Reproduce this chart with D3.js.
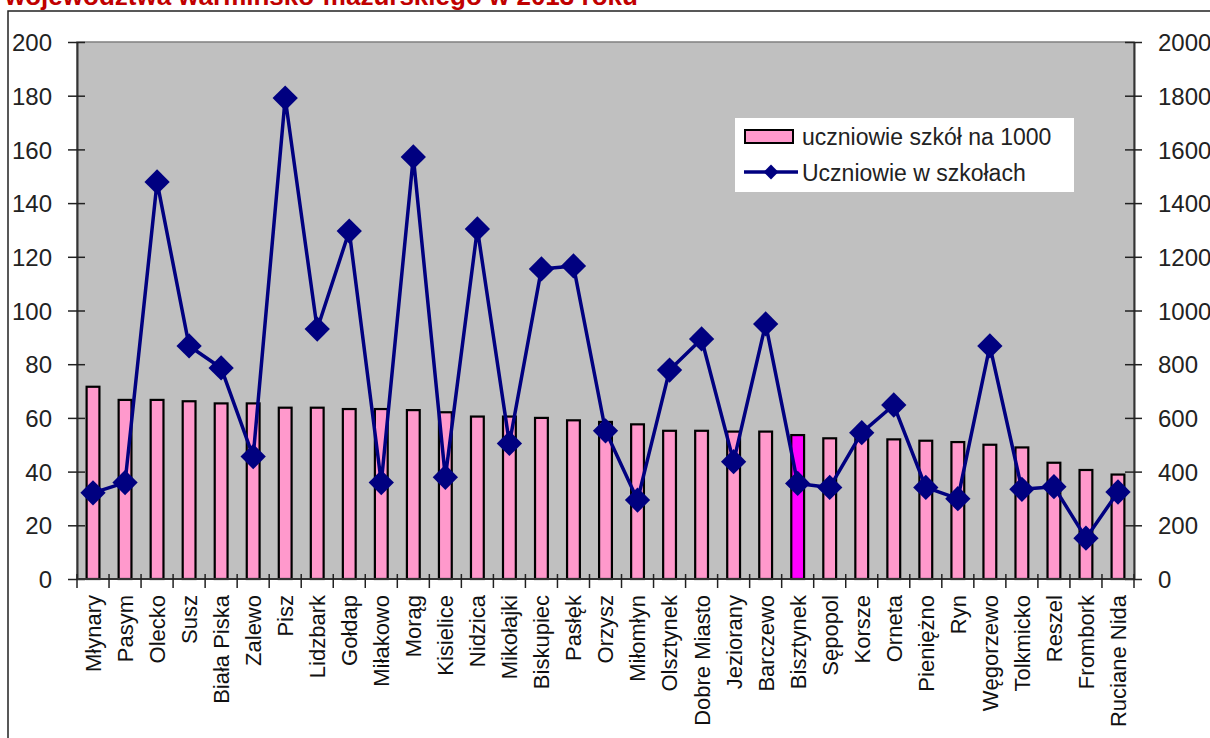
<!DOCTYPE html>
<html><head><meta charset="utf-8">
<script src="https://cdn.jsdelivr.net/npm/d3@7"></script>
<style>html,body{margin:0;padding:0;background:#fff;overflow:hidden}</style>
</head><body>
<svg id="c" width="1210" height="738"></svg>
<script>
const titleText = "województwa warmińsko-mazurskiego w 2013 roku";
const categories = ["Młynary","Pasym","Olecko","Susz","Biała Piska","Zalewo","Pisz","Lidzbark","Gołdap","Miłakowo","Morąg","Kisielice","Nidzica","Mikołajki","Biskupiec","Pasłęk","Orzysz","Miłomłyn","Olsztynek","Dobre Miasto","Jeziorany","Barczewo","Bisztynek","Sępopol","Korsze","Orneta","Pieniężno","Ryn","Węgorzewo","Tolkmicko","Reszel","Frombork","Ruciane Nida"];
const perThousand = [71.6,66.7,66.7,66.2,65.4,65.4,63.8,63.8,63.3,63.3,62.9,62.1,60.5,60.5,60.0,59.1,58.5,57.6,55.2,55.2,54.9,54.9,53.6,52.4,52.4,52.0,51.5,51.0,50.0,49.0,43.3,40.6,38.9];
const students = [321,359,1479,868,786,456,1791,931,1296,359,1572,379,1304,505,1155,1166,552,294,778,894,437,950,356,341,545,648,341,299,868,334,344,152,324];
const highlighted = ["Bisztynek"];
const leftTicks = [0,20,40,60,80,100,120,140,160,180,200];
const rightTicks = [0,200,400,600,800,1000,1200,1400,1600,1800,2000];
const seriesNames = ["uczniowie szkół na 1000","Uczniowie w szkołach"];

const svg = d3.select("#c");
const font = "'Liberation Sans', Arial, sans-serif";
const L = 77, R = 1134, T = 42, B = 579;

// title (cut off at top, as in the reference)
svg.append("text").attr("x",5).attr("y",5).text(titleText)
  .attr("font-family",font).attr("font-weight","bold").attr("font-size",26).attr("fill","#C00000");

// outer frame
svg.append("path").attr("d","M8,738 V11 H1210").attr("fill","none").attr("stroke","#222").attr("stroke-width",1.5);

const x = d3.scaleBand().domain(categories).range([L,R]);
const yL = d3.scaleLinear().domain([0,200]).range([B,T]);
const yR = d3.scaleLinear().domain([0,2000]).range([B,T]);

// plot area
svg.append("rect").attr("x",L).attr("y",T).attr("width",R-L).attr("height",B-T)
  .attr("fill","#C0C0C0").attr("stroke","#808080").attr("stroke-width",1.5);

// bars
const bw = x.bandwidth();
svg.append("g").selectAll("rect").data(categories).join("rect")
  .attr("x",d=>x(d)+bw*0.3).attr("width",bw*0.4)
  .attr("y",(d,i)=>yL(perThousand[i])).attr("height",(d,i)=>B-yL(perThousand[i]))
  .attr("fill",d=>highlighted.includes(d)?"#FF00FF":"#FF99CC")
  .attr("stroke","#000").attr("stroke-width",2.2);

// axes
const axStyle = g=>{
  g.selectAll("path.domain").attr("stroke","#333").attr("stroke-width",2);
  g.selectAll(".tick line").attr("stroke","#222").attr("stroke-width",1.5);
  g.selectAll("text").attr("font-family",font).attr("font-size",24).attr("fill","#222");
};
const la = svg.append("g").attr("transform",`translate(${L},0)`)
  .call(d3.axisLeft(yL).tickValues(leftTicks).tickFormat(d3.format("d")).tickSize(0).tickPadding(25).tickSizeOuter(0));
la.selectAll(".tick line").remove();
la.selectAll(".tick").append("line").attr("x1",-9).attr("x2",8);
axStyle(la);
la.selectAll("text").attr("dy","0.36em");

const ra = svg.append("g").attr("transform",`translate(${R},0)`)
  .call(d3.axisRight(yR).tickValues(rightTicks).tickFormat(d3.format("d")).tickSize(0).tickPadding(24).tickSizeOuter(0));
ra.selectAll(".tick line").remove();
ra.selectAll(".tick").append("line").attr("x1",-9).attr("x2",8);
axStyle(ra);
ra.selectAll("text").attr("dy","0.36em");

// x axis
const xa = svg.append("g").attr("transform",`translate(0,${B})`);
xa.append("line").attr("x1",L).attr("x2",R).attr("stroke","#333").attr("stroke-width",2);
const bounds = categories.map(c=>x(c)).concat([R]);
xa.selectAll("line.tk").data(bounds).join("line").attr("class","tk")
  .attr("x1",d=>d).attr("x2",d=>d).attr("y1",-5).attr("y2",9).attr("stroke","#222").attr("stroke-width",1.5);
xa.selectAll("text").data(categories).join("text")
  .attr("transform",d=>`translate(${x(d)+bw/2},16) rotate(-90)`)
  .attr("text-anchor","end").attr("dy","0.36em")
  .attr("font-family",font).attr("font-size",22).attr("fill","#111").text(d=>d);

// line
const line = d3.line().x((d,i)=>x(categories[i])+bw/2).y(d=>yR(d));
svg.append("path").datum(students).attr("d",line).attr("fill","none")
  .attr("stroke","#000080").attr("stroke-width",3.5).attr("stroke-linejoin","round");
const sym = d3.symbol().type(d3.symbolSquare).size(320);
svg.append("g").selectAll("path").data(students).join("path")
  .attr("d",sym).attr("fill","#000080")
  .attr("transform",(d,i)=>`translate(${x(categories[i])+bw/2},${yR(d)}) rotate(45)`);

// legend
const lg = svg.append("g");
lg.append("rect").attr("x",735).attr("y",118).attr("width",339).attr("height",74).attr("fill","#fff");
lg.append("rect").attr("x",745).attr("y",130).attr("width",48).attr("height",13)
  .attr("fill","#FF99CC").attr("stroke","#000").attr("stroke-width",2);
lg.append("line").attr("x1",744).attr("x2",798).attr("y1",172).attr("y2",172).attr("stroke","#000080").attr("stroke-width",3.5);
lg.append("path").attr("d",d3.symbol().type(d3.symbolSquare).size(110)()).attr("fill","#000080")
  .attr("transform","translate(771,172) rotate(45)");
lg.selectAll("text.lt").data(seriesNames).join("text").attr("class","lt")
  .attr("x",802).attr("y",(d,i)=>145+i*36).text(d=>d)
  .attr("font-family",font).attr("font-size",23).attr("fill","#222");
</script>
</body></html>
